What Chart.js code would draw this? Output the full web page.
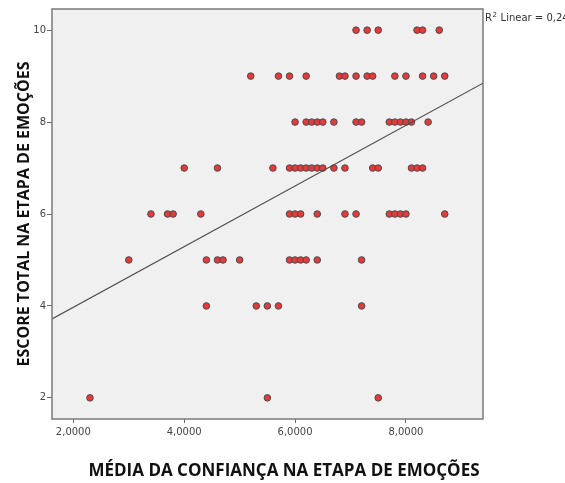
<!DOCTYPE html>
<html>
<head>
<meta charset="utf-8">
<script src="https://cdn.jsdelivr.net/npm/chart.js@4/dist/chart.umd.min.js"></script>
<style>
  html, body { margin: 0; padding: 0; background: #ffffff; }
  #wrap { width: 565px; height: 483px; position: relative; }
</style>
</head>
<body>
<div id="wrap"><canvas id="grafico" width="565" height="483"></canvas></div>
<script>
// Média da confiança (x) e escore total (y) de cada participante, agrupados por escore
const mediaConfianca = [
  7.1, 7.3, 7.5, 8.2, 8.3, 8.6,
  5.2, 5.7, 5.9, 6.2, 6.8, 6.9, 7.1, 7.3, 7.4, 7.8, 8.0, 8.3, 8.5, 8.7,
  6.0, 6.2, 6.3, 6.4, 6.5, 6.7, 7.1, 7.2, 7.7, 7.8, 7.9, 8.0, 8.1, 8.4,
  4.0, 4.6, 5.6, 5.9, 6.0, 6.1, 6.2, 6.3, 6.4, 6.5, 6.7, 6.9, 7.4, 7.5, 8.1, 8.2, 8.3,
  3.4, 3.7, 3.8, 4.3, 5.9, 6.0, 6.1, 6.4, 6.9, 7.1, 7.7, 7.8, 7.9, 8.0, 8.7,
  3.0, 4.4, 4.6, 4.7, 5.0, 5.9, 6.0, 6.1, 6.2, 6.4, 7.2,
  4.4, 5.3, 5.5, 5.7, 7.2,
  2.3, 5.5, 7.5
];
const escoreTotal = [
  10, 10, 10, 10, 10, 10,
  9, 9, 9, 9, 9, 9, 9, 9, 9, 9, 9, 9, 9, 9,
  8, 8, 8, 8, 8, 8, 8, 8, 8, 8, 8, 8, 8, 8,
  7, 7, 7, 7, 7, 7, 7, 7, 7, 7, 7, 7, 7, 7, 7, 7, 7,
  6, 6, 6, 6, 6, 6, 6, 6, 6, 6, 6, 6, 6, 6, 6,
  5, 5, 5, 5, 5, 5, 5, 5, 5, 5, 5,
  4, 4, 4, 4, 4,
  2, 2, 2
];

// Reta de ajuste linear (intercepto, inclinação) e R²
const ajusteLinear = [2.65, 0.66];
const r2Linear = 0.24;

// Marcas dos eixos
const xTicks = [2, 4, 6, 8];
const yTicks = [2, 4, 6, 8, 10];
const xLimites = [1.615, 9.39];
const yLimites = [1.54, 10.46];

const tituloX = 'MÉDIA DA CONFIANÇA NA ETAPA DE EMOÇÕES';
const tituloY = 'ESCORE TOTAL NA ETAPA DE EMOÇÕES';

const pontos = mediaConfianca.map((x, i) => ({ x: x, y: escoreTotal[i] }));
const reta = xLimites.map(x => ({ x: x, y: ajusteLinear[0] + ajusteLinear[1] * x }));

const fmtDecimal = (v, casas) => v.toFixed(casas).replace('.', ',');

// Fundo cinza e moldura da área de plotagem
const molduraPlugin = {
  id: 'moldura',
  beforeDatasetsDraw(chart) {
    const { ctx, chartArea: a } = chart;
    ctx.save();
    ctx.fillStyle = '#f0f0f0';
    ctx.fillRect(a.left, a.top, a.right - a.left, a.bottom - a.top);
    ctx.restore();
  },
  afterDatasetsDraw(chart) {
    const { ctx, chartArea: a } = chart;
    ctx.save();
    ctx.strokeStyle = '#7a7a7a';
    ctx.lineWidth = 1.5;
    ctx.strokeRect(a.left, a.top, a.right - a.left, a.bottom - a.top);
    ctx.restore();
  }
};

// Títulos dos eixos e rótulo do R²
const textosPlugin = {
  id: 'textos',
  afterDraw(chart) {
    const { ctx, chartArea: a } = chart;
    ctx.save();
    ctx.fillStyle = '#111111';
    ctx.textAlign = 'center';
    ctx.textBaseline = 'middle';

    ctx.font = 'bold 17px "Open Sans"';
    ctx.fillText(tituloX, 284, 471);

    ctx.translate(24, (a.top + a.bottom) / 2);
    ctx.rotate(-Math.PI / 2);
    ctx.font = 'bold 16px "Open Sans"';
    ctx.fillText(tituloY, 0, 0);
    ctx.restore();

    ctx.save();
    ctx.fillStyle = '#333333';
    ctx.textAlign = 'left';
    ctx.textBaseline = 'alphabetic';
    let x = a.right + 2;
    const base = a.top + 11.5;
    ctx.font = '10px "DejaVu Sans"';
    ctx.fillText('R', x, base);
    x += ctx.measureText('R').width;
    ctx.font = '7px "DejaVu Sans"';
    ctx.fillText('2', x + 0.5, base - 4);
    x += ctx.measureText('2').width + 1;
    ctx.font = '10px "DejaVu Sans"';
    ctx.fillText(' Linear = ' + fmtDecimal(r2Linear, 2), x, base);
    ctx.restore();
  }
};

new Chart(document.getElementById('grafico'), {
  data: {
    datasets: [
      {
        type: 'line',
        data: reta,
        order: 0,
        borderColor: '#4a4a4a',
        borderWidth: 1.1,
        pointRadius: 0,
        fill: false,
        tension: 0
      },
      {
        type: 'scatter',
        data: pontos,
        order: 1,
        pointRadius: 3.3,
        pointBackgroundColor: '#e53a3c',
        pointBorderColor: '#4a4a4a',
        pointBorderWidth: 1
      }
    ]
  },
  options: {
    responsive: false,
    devicePixelRatio: 1,
    animation: false,
    layout: { padding: { top: 9, right: 82, left: 0, bottom: 0 } },
    plugins: {
      legend: { display: false },
      tooltip: { enabled: false },
      title: { display: false }
    },
    scales: {
      x: {
        type: 'linear',
        min: xLimites[0],
        max: xLimites[1],
        afterBuildTicks: s => { s.ticks = xTicks.map(v => ({ value: v })); },
        afterFit: s => { s.height = 64; },
        border: { display: false },
        grid: { drawOnChartArea: false, drawTicks: true, tickLength: 4, color: '#666666', lineWidth: 1 },
        ticks: {
          padding: 3,
          color: '#444444',
          maxRotation: 0,
          autoSkip: false,
          font: { family: '"DejaVu Sans"', size: 10 },
          callback: v => fmtDecimal(v, 4)
        }
      },
      y: {
        type: 'linear',
        min: yLimites[0],
        max: yLimites[1],
        afterBuildTicks: s => { s.ticks = yTicks.map(v => ({ value: v })); },
        afterFit: s => { s.width = 52; },
        border: { display: false },
        grid: { drawOnChartArea: false, drawTicks: true, tickLength: 5, color: '#666666', lineWidth: 1 },
        ticks: {
          padding: 1,
          color: '#444444',
          autoSkip: false,
          font: { family: '"DejaVu Sans"', size: 10 },
          callback: v => String(v)
        }
      }
    }
  },
  plugins: [molduraPlugin, textosPlugin]
});
</script>
</body>
</html>
